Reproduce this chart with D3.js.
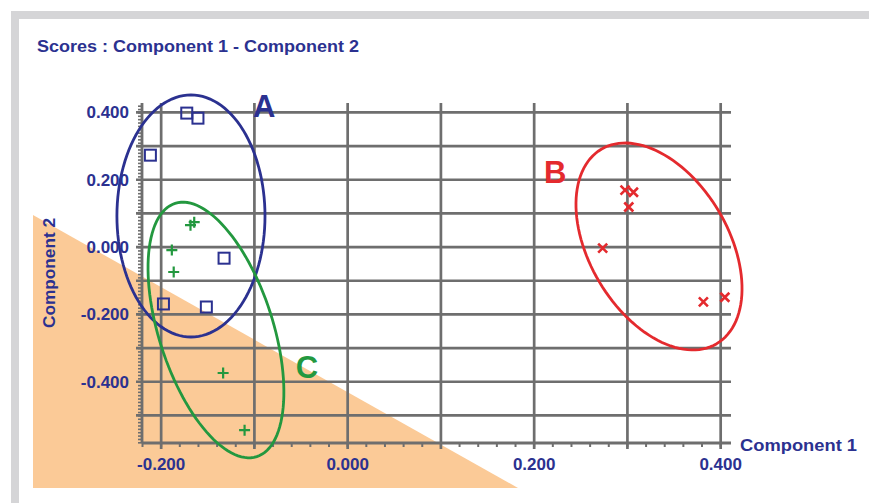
<!DOCTYPE html>
<html>
<head>
<meta charset="utf-8">
<script src="https://cdn.jsdelivr.net/npm/d3@7"></script>
<style>
  body { margin: 0; background: #fff; }
  svg { display: block; }
</style>
</head>
<body>
<svg id="svg-scores"></svg>
<script>
// Datos (Component 1, Component 2)
const grupoA_x = [-0.172, -0.160, -0.211, -0.132, -0.197, -0.151];
const grupoA_y = [0.398, 0.383, 0.273, -0.033, -0.169, -0.178];

const grupoB_x = [0.298, 0.307, 0.302, 0.274, 0.382, 0.405];
const grupoB_y = [0.169, 0.163, 0.119, -0.003, -0.163, -0.149];

const grupoC_x = [-0.168, -0.164, -0.188, -0.186, -0.133, -0.110];
const grupoC_y = [0.065, 0.074, -0.009, -0.074, -0.374, -0.544];

// Elipses: centro y dos semiejes (en unidades de los datos)
const elipseA = { c: [-0.1675, 0.0924], u: [0.0794, 0], v: [0, 0.3595] };
const elipseB = { c: [0.3344, 0.0018], u: [0.0619, -0.2888], v: [0.0640, 0.1052] };
const elipseC = { c: [-0.1407, -0.2463], u: [0.0438, -0.3761], v: [0.0582, 0.0520] };

// Marcas del eje
const etiquetas_x = [-0.2, 0.0, 0.2, 0.4];
const etiquetas_y = [-0.4, -0.2, 0.0, 0.2, 0.4];
const grilla_x = [-2, -1, 0, 1, 2, 3, 4].map(d => d / 10);
const grilla_y = [-5, -4, -3, -2, -1, 0, 1, 2, 3, 4].map(d => d / 10);

const azul = "#2b3190";
const rojo = "#e42a2e";
const verde = "#23983f";
const gris = "#6e6e6e";

const svg = d3.select("#svg-scores")
  .attr("width", 869)
  .attr("height", 503);

// marco gris del recuadro
svg.append("rect").attr("x", 11).attr("y", 11).attr("width", 870).attr("height", 500)
  .style("fill", "#d5d5d7");
svg.append("rect").attr("x", 19).attr("y", 19).attr("width", 870).attr("height", 500)
  .style("fill", "#ffffff");

// triangulo naranja de fondo
svg.append("path")
  .attr("d", "M33,215 L518,488 L33,488 Z")
  .style("fill", "#fbca97");

// escalas
const x = d3.scaleLinear().domain([-0.22, 0.41]).range([142, 729.5]);
const y = d3.scaleLinear().domain([-0.582, 0.428]).range([443, 103]);

// grilla vertical (se prolonga bajo el eje como marca mayor)
svg.append("g")
  .attr("transform", `translate(0,${y(-0.582)})`)
  .call(d3.axisBottom(x).tickValues(grilla_x).tickSizeInner(-(443 - 103)).tickSizeOuter(0).tickFormat(""))
  .call(g => g.select(".domain").remove())
  .call(g => g.selectAll("line").attr("y2", 6).attr("y1", -(443 - 103))
    .style("stroke", gris).style("stroke-width", 2.7));

// grilla horizontal
svg.append("g")
  .selectAll("line")
  .data(grilla_y)
  .join("line")
  .attr("x1", x(-0.22) - 6)
  .attr("x2", 731)
  .attr("y1", d => y(d))
  .attr("y2", d => y(d))
  .style("stroke", gris)
  .style("stroke-width", 2.7);

// marcas menores eje x (cada 0.02)
const menores_x = d3.range(-11, 21).map(d => d * 0.02).filter(d => d >= -0.22 && d <= 0.41);
svg.append("g")
  .attr("transform", `translate(0,${y(-0.582)})`)
  .call(d3.axisBottom(x).tickValues(menores_x).tickSize(4).tickFormat(""))
  .call(g => g.select(".domain").remove())
  .call(g => g.selectAll("line").style("stroke", gris).style("stroke-width", 2));

// marcas menores eje y (cada 0.01)
const menores_y = d3.range(-58, 43).map(d => d / 100);
svg.append("g")
  .attr("transform", `translate(${x(-0.22)},0)`)
  .call(d3.axisLeft(y).tickValues(menores_y).tickSize(4).tickFormat(""))
  .call(g => g.select(".domain").remove())
  .call(g => g.selectAll("line").style("stroke", gris).style("stroke-width", 1.6));

// lineas de los ejes
svg.append("line")
  .attr("x1", x(-0.22)).attr("x2", 731)
  .attr("y1", y(-0.582)).attr("y2", y(-0.582))
  .style("stroke", gris).style("stroke-width", 2.8);
svg.append("line")
  .attr("x1", x(-0.22)).attr("x2", x(-0.22))
  .attr("y1", y(0.428)).attr("y2", y(-0.582))
  .style("stroke", gris).style("stroke-width", 2.8);

// etiquetas de los ejes (con guion normal, como el original)
const formato = d => d.toFixed(3);
const estiloTexto = g => g.selectAll("text")
  .style("font-family", "'Liberation Sans', Arial, sans-serif")
  .style("font-weight", "bold")
  .style("font-size", "17px")
  .style("fill", azul);

svg.append("g")
  .attr("transform", `translate(0,${y(-0.582)})`)
  .call(d3.axisBottom(x).tickValues(etiquetas_x).tickSize(0).tickPadding(15).tickFormat(formato))
  .call(g => g.select(".domain").remove())
  .call(estiloTexto);

svg.append("g")
  .attr("transform", `translate(${x(-0.22)},0)`)
  .call(d3.axisLeft(y).tickValues(etiquetas_y).tickSize(0).tickPadding(13).tickFormat(formato))
  .call(g => g.select(".domain").remove())
  .call(estiloTexto);

// titulos
svg.append("text")
  .attr("x", 37).attr("y", 52)
  .attr("textLength", 322)
  .attr("lengthAdjust", "spacingAndGlyphs")
  .style("font-family", "'Liberation Sans', Arial, sans-serif")
  .style("font-weight", "bold")
  .style("font-size", "17px")
  .style("fill", azul)
  .text("Scores : Component 1 - Component 2");

svg.append("text")
  .attr("x", 740).attr("y", 451)
  .attr("textLength", 117)
  .attr("lengthAdjust", "spacingAndGlyphs")
  .style("font-family", "'Liberation Sans', Arial, sans-serif")
  .style("font-weight", "bold")
  .style("font-size", "17px")
  .style("fill", azul)
  .text("Component 1");

svg.append("text")
  .attr("transform", "translate(55,273) rotate(-90)")
  .attr("text-anchor", "middle")
  .attr("textLength", 110)
  .attr("lengthAdjust", "spacingAndGlyphs")
  .style("font-family", "'Liberation Sans', Arial, sans-serif")
  .style("font-weight", "bold")
  .style("font-size", "16px")
  .style("fill", azul)
  .text("Component 2");

// funcion que dibuja una elipse a partir del centro y los semiejes
function dibujarElipse(e, color) {
  const puntos = d3.range(0, 121).map(k => {
    const t = k / 120 * 2 * Math.PI;
    return [e.c[0] + e.u[0] * Math.cos(t) + e.v[0] * Math.sin(t),
            e.c[1] + e.u[1] * Math.cos(t) + e.v[1] * Math.sin(t)];
  });
  const linea = d3.line().x(d => x(d[0])).y(d => y(d[1])).curve(d3.curveLinearClosed);
  svg.append("path")
    .attr("d", linea(puntos))
    .style("fill", "none")
    .style("stroke", color)
    .style("stroke-width", 2.8);
}

dibujarElipse(elipseA, azul);
dibujarElipse(elipseC, verde);
dibujarElipse(elipseB, rojo);

// marcadores
const m = 5.5;
svg.append("g").selectAll("rect")
  .data(d3.range(grupoA_x.length))
  .join("rect")
  .attr("x", i => x(grupoA_x[i]) - m)
  .attr("y", i => y(grupoA_y[i]) - m)
  .attr("width", 2 * m).attr("height", 2 * m)
  .style("fill", "none").style("stroke", azul).style("stroke-width", 2);

svg.append("g").selectAll("path")
  .data(d3.range(grupoC_x.length))
  .join("path")
  .attr("d", i => {
    const cx = x(grupoC_x[i]), cy = y(grupoC_y[i]);
    return `M${cx - m},${cy}H${cx + m}M${cx},${cy - m}V${cy + m}`;
  })
  .style("stroke", verde).style("stroke-width", 2.2);

svg.append("g").selectAll("path")
  .data(d3.range(grupoB_x.length))
  .join("path")
  .attr("d", i => {
    const cx = x(grupoB_x[i]), cy = y(grupoB_y[i]);
    const k = 4.5;
    return `M${cx - k},${cy - k}L${cx + k},${cy + k}M${cx - k},${cy + k}L${cx + k},${cy - k}`;
  })
  .style("stroke", rojo).style("stroke-width", 2.6);

// letras de los grupos
const letras = ["A", "B", "C"];
const letras_x = [-0.101, 0.211, -0.055];
const letras_y = [0.387, 0.190, -0.389];
const letras_color = [azul, rojo, verde];
svg.append("g").selectAll("text")
  .data(letras)
  .join("text")
  .attr("x", (d, i) => x(letras_x[i]))
  .attr("y", (d, i) => y(letras_y[i]))
  .style("font-family", "'Liberation Sans', Arial, sans-serif")
  .style("font-weight", "bold")
  .style("font-size", "31px")
  .style("fill", (d, i) => letras_color[i])
  .text(d => d);
</script>
</body>
</html>
